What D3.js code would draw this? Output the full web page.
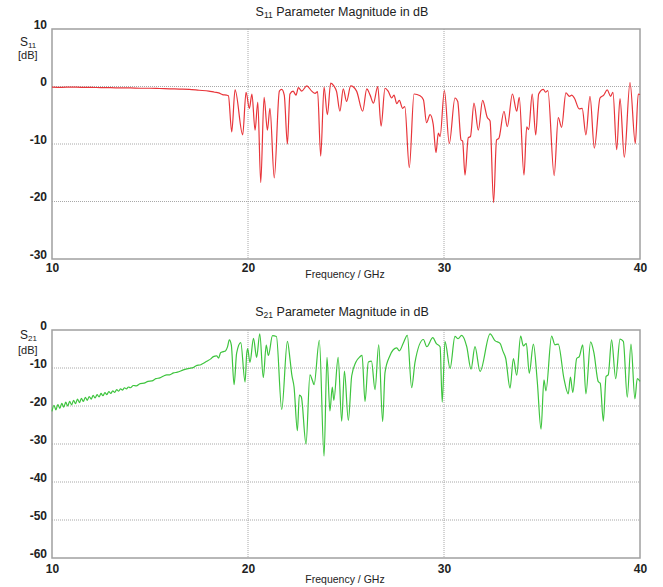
<!DOCTYPE html>
<html>
<head>
<meta charset="utf-8">
<script src="https://cdn.jsdelivr.net/npm/d3@7"></script>
<style>
  html, body { margin: 0; padding: 0; background: #fff; }
  svg { display: block; }
  text { font-family: "Liberation Sans", Arial, sans-serif; fill: #222; }
</style>
</head>
<body>
<svg id="chart" width="663" height="587"></svg>
<script>
// ---------- data ----------
const xTicks = [10, 20, 30, 40];
const s11Ticks = [10, 0, -10, -20, -30];
const s21Ticks = [0, -10, -20, -30, -40, -50, -60];

const s11Freq = [10.0,10.5,11.0,11.5,12.0,12.5,13.0,13.5,14.0,14.5,15.0,15.5,16.0,16.5,17.0,17.5,18.0,18.3,18.5,18.7,18.9,19.0,
  19.17,19.34,19.73,19.90,20.07,20.2,20.36,20.5,20.65,20.82,20.99,21.12,21.34,21.6,21.72,21.85,22.01,22.14,22.3,22.45,22.57,22.74,
  23.0,23.25,23.42,23.55,23.71,23.88,24.05,24.22,24.38,24.52,24.69,24.86,25.03,25.24,25.54,25.85,26.06,26.23,26.4,26.62,26.79,26.99,
  27.15,27.33,27.45,27.59,27.72,27.89,28.0,28.23,28.47,28.78,28.95,29.11,29.29,29.45,29.59,29.71,29.8,30.02,30.27,30.56,30.7,30.87,
  30.95,31.07,31.24,31.35,31.53,31.75,31.97,32.21,32.35,32.53,32.68,32.8,33.06,33.23,33.49,33.71,33.84,34.08,34.22,34.32,34.5,34.68,
  34.83,35.07,35.18,35.3,35.62,35.83,36.0,36.22,36.4,36.52,36.65,36.9,37.05,37.24,37.45,37.67,37.96,38.15,38.33,38.5,38.62,38.81,
  38.98,39.2,39.49,39.76,39.91,40.0];
const s11Db = [-0.1,-0.15,-0.1,-0.15,-0.15,-0.2,-0.2,-0.25,-0.25,-0.3,-0.3,-0.35,-0.4,-0.45,-0.5,-0.65,-0.8,-1.0,-1.1,-1.4,-1.5,-1.6,
  -7.9,-0.6,-8.4,-1.0,-3.8,-1.3,-7.6,-2.7,-16.7,-1.9,-7.6,-3.8,-15.9,-0.8,-0.5,-1.5,-10.0,-1.3,-0.8,-1.5,-0.2,-0.8,
  0.1,-0.8,-1.2,-0.9,-12.1,-0.1,-4.9,0.6,0.1,-0.9,-4.3,-0.4,-2.6,0.1,-0.8,-4.3,-0.4,-1.5,-2.9,0.0,-6.9,-0.3,
  -0.8,-2.0,-1.5,-3.0,-2.4,-3.8,-3.5,-14.1,-1.3,-1.6,-2.3,-6.3,-4.9,-6.6,-11.5,-8.1,-8.7,-0.7,-9.9,-2.0,-2.6,-9.3,
  -9.5,-15.4,-8.9,-8.7,-2.9,-7.6,-2.4,-5.4,-6.0,-20.2,-9.3,-9.0,-4.3,-7.0,-1.3,-4.3,-1.9,-15.4,-7.0,-7.5,-1.3,-8.4,
  -1.3,-0.5,-1.0,-0.7,-15.5,-5.4,-7.1,-1.1,-1.7,-1.5,-2.0,-3.9,-3.8,-8.4,-1.7,-10.7,-2.0,-1.5,-0.6,-1.7,-1.0,-11.0,
  -2.1,-12.3,0.7,-9.9,-1.3,-1.4];

const s21Freq = [10.0,10.1,10.2,10.3,10.4,10.5,10.6,10.7,10.8,10.9,11.0,11.1,11.2,11.3,11.4,11.5,11.6,11.7,11.8,11.9,
  12.0,12.1,12.2,12.3,12.4,12.5,12.6,12.7,12.8,12.9,13.0,13.1,13.2,13.3,13.4,13.5,13.6,13.7,13.8,13.9,14.0,
  14.15,14.3,14.5,14.7,14.9,15.1,15.3,15.5,15.7,15.85,16.0,16.2,16.4,16.7,17.0,17.2,17.4,17.55,17.7,17.9,18.1,18.23,18.4,18.5,18.6,
  18.74,18.85,18.95,19.05,19.15,19.29,19.42,19.63,19.85,19.93,19.98,20.1,20.28,20.44,20.6,20.78,20.93,21.04,21.25,21.45,21.72,
  22.01,22.15,22.23,22.35,22.52,22.62,22.72,22.96,23.16,23.3,23.37,23.64,23.88,24.03,24.18,24.3,24.38,24.6,24.78,24.92,25.12,
  25.29,25.5,25.7,25.82,25.97,26.14,26.3,26.48,26.67,26.87,26.99,27.24,27.41,27.59,27.72,27.92,28.13,28.35,28.52,28.95,29.12,
  29.43,29.6,29.8,29.91,30.05,30.31,30.56,30.72,30.9,31.16,31.38,31.58,31.84,32.35,32.6,32.86,33.0,33.15,33.37,33.54,33.71,
  33.91,34.05,34.2,34.35,34.56,34.76,34.95,35.1,35.2,35.49,35.66,35.83,36.12,36.34,36.45,36.57,36.77,36.9,37.08,37.24,37.48,
  37.65,37.87,37.97,38.13,38.27,38.38,38.55,38.76,38.98,39.15,39.35,39.54,39.74,39.86,40.0];
const s21Db = [-21.4,-19.8,-21.0,-19.6,-20.6,-19.3,-20.3,-19.0,-20.0,-18.8,-19.7,-18.5,-19.4,-18.2,-19.1,-18.0,-18.8,-17.7,-18.5,-17.5,
  -18.2,-17.2,-17.9,-17.0,-17.6,-16.7,-17.3,-16.5,-17.0,-16.2,-16.7,-16.0,-16.4,-15.7,-16.1,-15.5,-15.8,-15.2,-15.5,-15.0,-15.2,
  -14.6,-14.7,-14.1,-14.0,-13.5,-13.4,-12.8,-12.6,-12.1,-11.8,-11.8,-11.3,-11.1,-10.5,-10.1,-9.9,-9.3,-9.2,-8.8,-8.2,-7.6,-7.0,-6.8,-7.4,-6.0,
  -5.7,-5.5,-4.5,-2.6,-4.0,-14.4,-6.1,-3.3,-13.7,-6.5,-4.9,-8.5,-2.2,-7.2,-1.0,-12.5,-4.0,-6.7,-1.5,-1.7,-20.9,
  -3.0,-8.0,-11.6,-15.0,-26.5,-17.1,-17.6,-30.0,-11.8,-13.5,-14.4,-2.7,-33.2,-7.2,-21.3,-15.0,-18.5,-7.2,-24.0,-10.8,-23.8,
  -12.1,-8.5,-7.1,-6.7,-18.8,-8.4,-8.2,-15.7,-3.9,-24.1,-11.2,-6.8,-5.2,-4.7,-5.5,-3.5,-1.4,-15.2,-8.5,-2.5,-4.4,
  -2.0,-3.5,-4.4,-19.0,-3.0,-10.1,-1.7,-2.3,-1.4,-4.4,-10.3,-4.4,-10.9,-1.0,-2.8,-3.5,-5.5,-7.5,-15.3,-7.5,-11.9,
  -1.6,-4.2,-3.5,-11.4,-3.7,-13.6,-26.1,-13.1,-16.0,-1.6,-3.9,-3.7,-12.8,-16.8,-12.4,-16.4,-7.5,-7.0,-3.9,-16.8,-3.1,
  -6.0,-13.6,-14.0,-24.0,-12.2,-11.8,-2.6,-12.8,-2.4,-3.0,-17.7,-3.7,-18.1,-12.8,-13.5];

// ---------- layout ----------
const svg = d3.select("#chart");
const left = 52, right = 640;

const panels = [
  { sub: "11", freq: s11Freq, db: s11Db, ticks: s11Ticks, domain: [-30, 10],
    top: 29, bottom: 259, titleY: 16, color: "#e8353a",
    sY: 46, dbY: 59, xlabPad: 4, xTitleY: 278 },
  { sub: "21", freq: s21Freq, db: s21Db, ticks: s21Ticks, domain: [-60, 0],
    top: 330, bottom: 558, titleY: 316, color: "#3ec43e",
    sY: 339, dbY: 354, xlabPad: 6, xTitleY: 583 }
];

panels.forEach(p => {
  const g = svg.append("g");
  const x = d3.scaleLinear().domain([10, 40]).range([left, right]);
  const y = d3.scaleLinear().domain(p.domain).range([p.bottom, p.top]);

  // grid lines
  g.append("g").selectAll("line").data(p.ticks.filter(t => t !== p.domain[0] && t !== p.domain[1]))
    .join("line")
    .attr("x1", left).attr("x2", right)
    .attr("y1", d => y(d)).attr("y2", d => y(d))
    .attr("stroke", "#a8a8a8").attr("stroke-width", 1).attr("stroke-dasharray", "1,1");
  g.append("g").selectAll("line").data(xTicks.slice(1, -1))
    .join("line")
    .attr("x1", d => x(d)).attr("x2", d => x(d))
    .attr("y1", p.top).attr("y2", p.bottom)
    .attr("stroke", "#a8a8a8").attr("stroke-width", 1).attr("stroke-dasharray", "1,1");

  // frame
  g.append("rect").attr("x", left).attr("y", p.top)
    .attr("width", right - left).attr("height", p.bottom - p.top)
    .attr("fill", "none").attr("stroke", "#a0a0a0").attr("stroke-width", 1.5);

  // data line
  const pts = p.freq.map((f, i) => [f, p.db[i]]);
  const line = d3.line().x(d => x(d[0])).y(d => y(d[1])).curve(d3.curveMonotoneX);
  g.append("path").datum(pts).attr("d", line)
    .attr("fill", "none").attr("stroke", p.color).attr("stroke-width", 1.2)
    .attr("stroke-linejoin", "round");

  // y axis labels
  const yAxis = d3.axisLeft(y).tickValues(p.ticks).tickSize(0).tickPadding(5).tickFormat(d => String(d));
  const ya = g.append("g").attr("transform", `translate(${left},0)`).call(yAxis);
  ya.select(".domain").remove();
  ya.selectAll("text").attr("dy", "-0.05em").style("font-size", "12px").style("font-weight", "bold")
    .style("font-family", "'Liberation Sans', Arial, sans-serif").attr("fill", "#222");

  // x axis labels
  const xAxis = d3.axisBottom(x).tickValues(xTicks).tickSize(0).tickPadding(p.xlabPad).tickFormat(d => String(d));
  const xa = g.append("g").attr("transform", `translate(0,${p.bottom})`).call(xAxis);
  xa.select(".domain").remove();
  xa.selectAll("text").style("font-size", "12px").style("font-weight", "bold")
    .style("font-family", "'Liberation Sans', Arial, sans-serif").attr("fill", "#222");

  // axis title
  g.append("text").attr("x", 345).attr("y", p.xTitleY).attr("text-anchor", "middle")
    .style("font-size", "10.5px").text("Frequency / GHz");

  // chart title
  const t = g.append("text").attr("x", 342).attr("y", p.titleY).attr("text-anchor", "middle")
    .style("font-size", "12.5px");
  t.append("tspan").text("S");
  t.append("tspan").attr("dy", "2").style("font-size", "8.5px").text(p.sub);
  t.append("tspan").attr("dy", "-2").text(" Parameter Magnitude in dB");

  // y title
  const yl = g.append("text").attr("x", 20).attr("y", p.sY).style("font-size", "12px");
  yl.append("tspan").text("S");
  yl.append("tspan").attr("dy", "2").style("font-size", "8px").text(p.sub);
  g.append("text").attr("x", 18).attr("y", p.dbY).style("font-size", "11px").text("[dB]");
});
</script>
</body>
</html>
